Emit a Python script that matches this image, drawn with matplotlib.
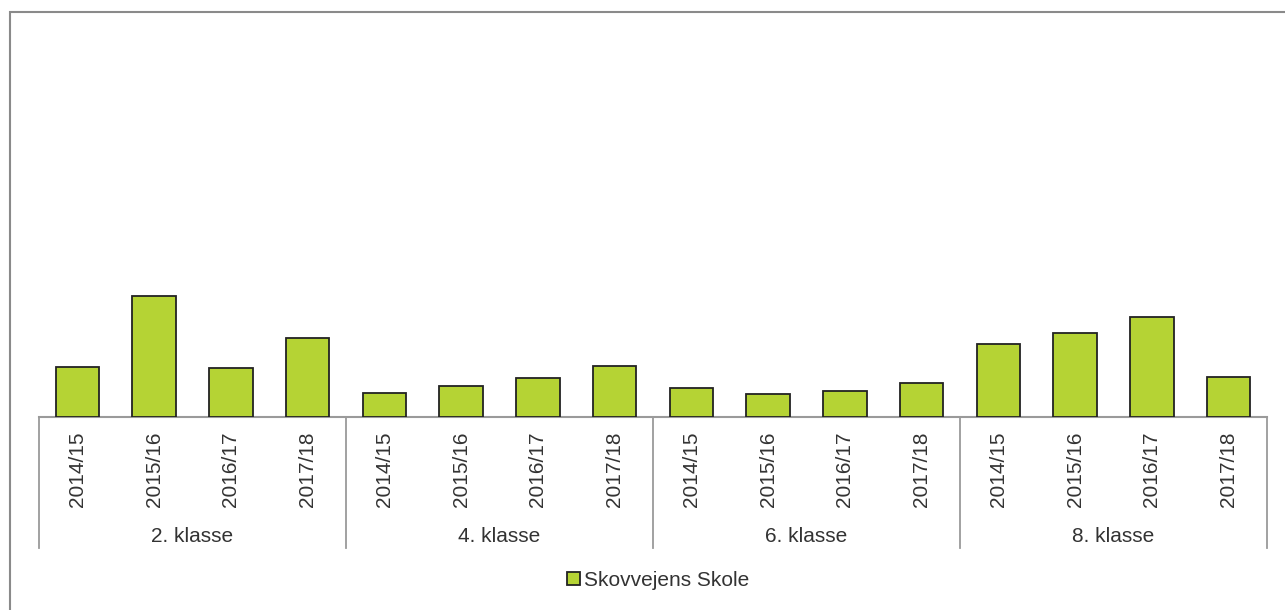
import numpy as np
import matplotlib
matplotlib.use("Agg")
from matplotlib import pyplot as plt
from matplotlib.patches import Rectangle

plt.rcParams['font.family'] = ['Liberation Sans', 'DejaVu Sans']

# Data (arbitrary units, no value axis shown)
groups = ["2. klasse", "4. klasse", "6. klasse", "8. klasse"]
years = ["2014/15", "2015/16", "2016/17", "2017/18"]
values_2 = [5.1, 12.5, 5.0, 8.1]
values_4 = [2.5, 3.2, 4.0, 5.2]
values_6 = [3.0, 2.35, 2.7, 3.5]
values_8 = [7.5, 8.7, 10.3, 4.1]
series_name = "Skovvejens Skole"

values = values_2 + values_4 + values_6 + values_8
labels = years * len(groups)
x = np.arange(len(values))

bar_color = "#b5d334"
text_color = "#333333"
line_color = "#9a9a9a"

fig = plt.figure(figsize=(12.85, 6.10), dpi=100)
ax = fig.add_axes([39/1285, 193.3/610, (1267-39)/1285, (416.7-30)/610])

ax.bar(x, values, width=0.57, color=bar_color, edgecolor="#222222",
       linewidth=1.3, label=series_name, zorder=3)

ax.set_xlim(-0.5, len(values) - 0.5)
ax.set_ylim(0, 40)
ax.set_yticks([])
ax.set_xticks(x, labels, rotation=90, fontsize=15, color=text_color)
ax.tick_params(axis="x", length=0, pad=11)
for side in ["left", "right", "top"]:
    ax.spines[side].set_visible(False)
ax.spines["bottom"].set_color(line_color)
ax.spines["bottom"].set_linewidth(1.5)

# group separators and group labels below the axis
trans = ax.get_xaxis_transform()
n = len(years)
for i in range(len(groups) + 1):
    xpos = i * n - 0.5
    ax.plot([xpos, xpos], [0, -0.34], transform=trans, clip_on=False,
            color=line_color, linewidth=1.3)
for i, g in enumerate(groups):
    ax.text(i * n + (n - 1) / 2, -0.31, g, transform=trans, ha="center",
            va="center", fontsize=15, color=text_color)

fig.legend(loc="center", bbox_to_anchor=(658/1285, 1 - 580/610), frameon=False,
           fontsize=15, handlelength=0.6, handleheight=0.6, handletextpad=0.2,
           labelcolor=text_color)

# outer chart frame (cut off at right and bottom)
fig.patches.append(Rectangle((10/1285, -0.02), 1.1, 1 - 12/610 + 0.02,
                             transform=fig.transFigure, fill=False,
                             edgecolor="#8a8a8a", linewidth=1.5))

fig.savefig("out.png", dpi=100)
